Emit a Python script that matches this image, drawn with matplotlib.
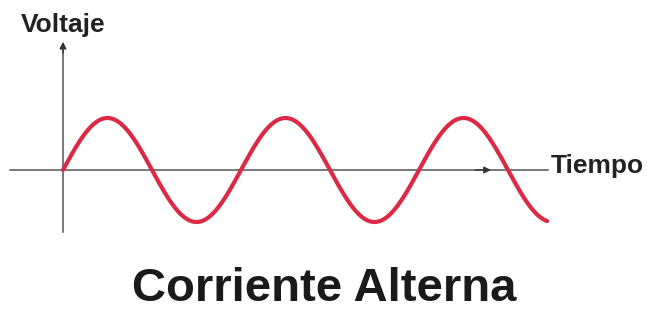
import numpy as np
import matplotlib
matplotlib.use("Agg")
import matplotlib.pyplot as plt

# datos de la onda
amplitud = 1.0        # voltaje pico
ciclos = 2.72         # ciclos mostrados
titulo = "Corriente Alterna"
eje_y = "Voltaje"
eje_x = "Tiempo"

fuente = "Liberation Sans"

t = np.linspace(0, ciclos, 600)
v = amplitud * np.sin(2 * np.pi * t)

fig = plt.figure(figsize=(6.57, 3.12), dpi=100)
ax = fig.add_axes([0, 0, 1, 1])
# 1 ciclo = 178 px, amplitud = 52 px
ax.set_xlim(-63 / 178, 594 / 178)
ax.set_ylim(-142 / 52, 170 / 52)
ax.axis("off")

gris = "#555555"
# eje horizontal
ax.plot([-0.298, 2.725], [0, 0], color=gris, lw=1.1, zorder=1)
ax.annotate("", xy=(2.42, 0), xytext=(2.30, 0),
            arrowprops=dict(arrowstyle="-|>", color="#333333", lw=1, mutation_scale=10))
# eje vertical
ax.plot([0, 0], [-1.19, 2.3], color=gris, lw=1.1, zorder=1)
ax.annotate("", xy=(0, 2.52), xytext=(0, 2.2),
            arrowprops=dict(arrowstyle="-|>", color="#333333", lw=1, mutation_scale=10))

ax.plot(t, v, color="#dc2a44", lw=3, solid_capstyle="round", zorder=2)

ax.text(0, 2.654, eje_y, ha="center", va="baseline", fontsize=19, fontweight="bold",
        family=fuente, color="#222222")
ax.text(2.74, -0.058, eje_x, ha="left", va="baseline", fontsize=19, fontweight="bold",
        family=fuente, color="#222222")
ax.text(1.466, -2.52, titulo, ha="center", va="baseline", fontsize=34, fontweight="bold",
        family=fuente, color="#1a1a1a")

fig.savefig("out.png", dpi=100, facecolor="white")
